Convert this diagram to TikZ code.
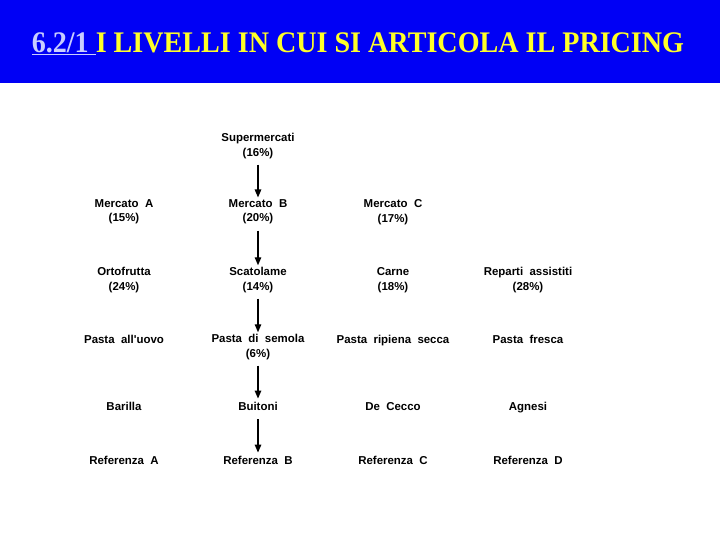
\documentclass[tikz,border=0pt]{standalone}
\usepackage{fontspec}
\setmainfont{Liberation Serif}
\newfontfamily\lblfont{Liberation Sans}
\usetikzlibrary{arrows.meta}
\definecolor{titleblue}{RGB}{0,0,245}
\definecolor{titleyellow}{RGB}{255,255,40}
\definecolor{linkblue}{RGB}{200,205,255}
\begin{document}
\begin{tikzpicture}[x=1bp,y=-1bp,
  lbl/.style={inner sep=1bp,align=center,font=\lblfont\bfseries\fontsize{11.5}{14.5}\selectfont,execute at begin node=\strut},
  arr/.style={line width=1.3bp,-{Triangle[length=8bp,width=6.5bp]},shorten <=3bp,shorten >=1bp}]
\useasboundingbox (0,0) rectangle (720,540);
\fill[white] (0,0) rectangle (720,540);
\fill[titleblue] (0,0) rectangle (720,83);
\node[font=\bfseries\fontsize{30}{32}\selectfont,text=titleyellow,inner sep=0pt,transform shape,xscale=0.94] (title) at (358,44)
  {\textcolor{linkblue}{\underline{6.2/1\ }}I LIVELLI IN CUI SI ARTICOLA IL PRICING};
% row 1
\node[lbl] (sup) at (258,147) {Supermercati\\(16\%)};
% row 2
\node[lbl] (ma) at (124,213) {Mercato \ A\\(15\%)};
\node[lbl] (mb) at (258,213) {Mercato \ B\\(20\%)};
\node[lbl] (mc) at (393,213) {Mercato \ C\\(17\%)};
% row 3
\node[lbl] (orto) at (124,281) {Ortofrutta\\(24\%)};
\node[lbl] (scat) at (258,281) {Scatolame\\(14\%)};
\node[lbl] (carne) at (393,281) {Carne\\(18\%)};
\node[lbl] (rep) at (528,281) {Reparti \ assistiti\\(28\%)};
% row 4
\node[lbl] (puovo) at (124,341) {Pasta \ all'uovo};
\node[lbl] (psem) at (258,348) {Pasta \ di \ semola\\(6\%)};
\node[lbl] (prip) at (393,341) {Pasta \ ripiena \ secca};
\node[lbl] (pfr) at (528,341) {Pasta \ fresca};
% row 5
\node[lbl] (bar) at (124,408) {Barilla};
\node[lbl] (bui) at (258,408) {Buitoni};
\node[lbl] (dec) at (393,408) {De \ Cecco};
\node[lbl] (agn) at (528,408) {Agnesi};
% row 6
\node[lbl] (ra) at (124,462) {Referenza \ A};
\node[lbl] (rb) at (258,462) {Referenza \ B};
\node[lbl] (rc) at (393,462) {Referenza \ C};
\node[lbl] (rd) at (528,462) {Referenza \ D};
% arrows
\draw[arr] (sup) -- (mb);
\draw[arr] (mb) -- (scat);
\draw[arr] (scat) -- (psem);
\draw[arr] (psem) -- (bui);
\draw[arr] (bui) -- (rb);
\end{tikzpicture}
\end{document}
